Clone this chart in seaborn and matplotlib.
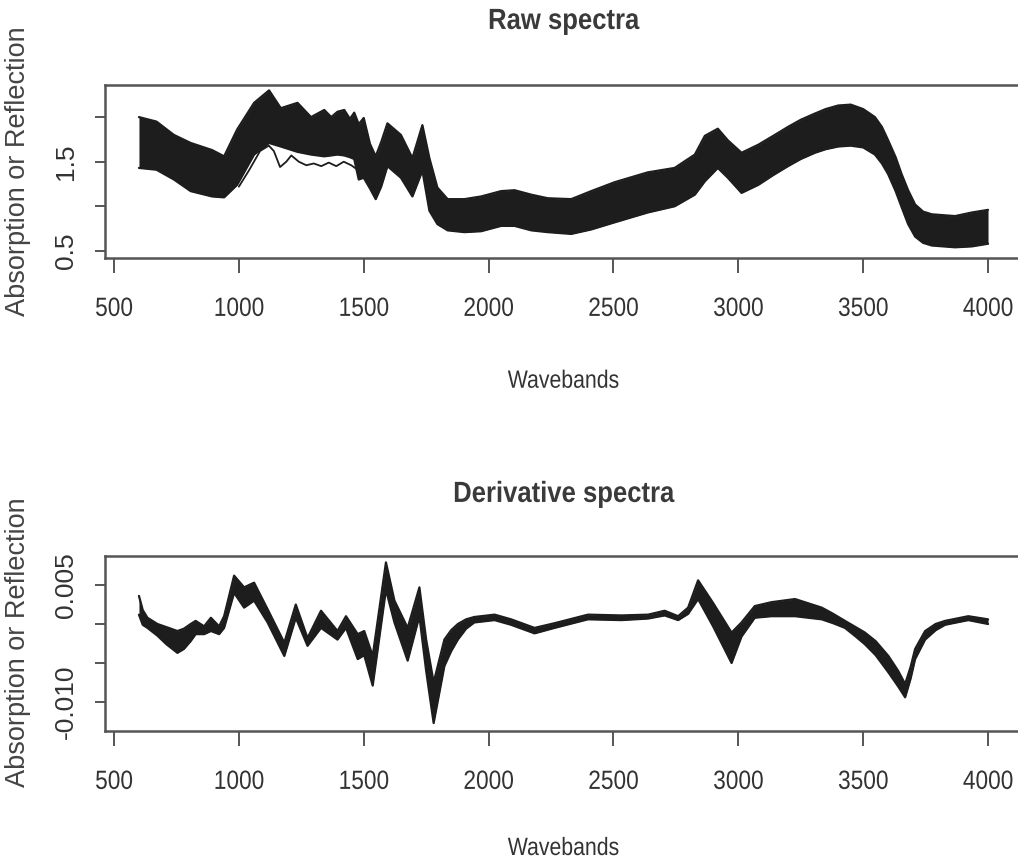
import numpy as np
import pandas as pd
import matplotlib
matplotlib.use("Agg")
import matplotlib.pyplot as plt
from matplotlib import patheffects
from matplotlib.transforms import Affine2D
import seaborn as sns

# ---- raw spectra: envelope of the spectral set (upper / lower bound) ----
raw_wavebands = [600, 670, 740, 807, 893, 941, 993, 1061, 1121, 1168, 1235, 1289,
                 1342, 1370, 1395, 1422, 1445, 1462, 1480, 1500, 1525, 1548, 1570,
                 1595, 1649, 1695, 1735, 1763, 1795, 1836, 1903, 1970, 2050, 2104,
                 2171, 2237, 2331, 2411, 2505, 2637, 2745, 2826, 2866, 2918, 2958,
                 3013, 3080, 3140, 3199, 3250, 3307, 3350, 3400, 3450, 3500, 3547,
                 3575, 3600, 3630, 3654, 3680, 3708, 3740, 3775, 3868, 3935, 4000]
raw_upper = [2.00, 1.95, 1.80, 1.71, 1.63, 1.56, 1.86, 2.16, 2.30, 2.10, 2.16, 2.00,
             2.08, 2.00, 2.06, 2.08, 1.98, 2.05, 1.92, 1.99, 1.70, 1.56, 1.72,
             1.93, 1.80, 1.54, 1.91, 1.54, 1.21, 1.08, 1.08, 1.11, 1.17, 1.18,
             1.13, 1.09, 1.08, 1.17, 1.27, 1.38, 1.43, 1.58, 1.79, 1.87, 1.74,
             1.60, 1.69, 1.79, 1.89, 1.97, 2.04, 2.09, 2.13, 2.14, 2.09, 2.00,
             1.89, 1.74, 1.55, 1.36, 1.18, 1.02, 0.94, 0.91, 0.89, 0.93, 0.96]
raw_lower = [1.43, 1.41, 1.30, 1.17, 1.11, 1.10, 1.24, 1.58, 1.71, 1.67, 1.61, 1.58,
             1.56, 1.57, 1.58, 1.57, 1.55, 1.53, 1.30, 1.32, 1.20, 1.08, 1.22,
             1.45, 1.32, 1.11, 1.40, 0.95, 0.80, 0.73, 0.71, 0.72, 0.78, 0.78,
             0.73, 0.71, 0.69, 0.74, 0.82, 0.93, 1.00, 1.13, 1.28, 1.43, 1.32,
             1.15, 1.24, 1.35, 1.45, 1.53, 1.60, 1.64, 1.67, 1.68, 1.66, 1.58,
             1.48, 1.36, 1.17, 0.99, 0.80, 0.66, 0.59, 0.56, 0.54, 0.55, 0.58]

# one low-lying spectrum that separates from the bundle
outlier_wavebands = [1000, 1040, 1085, 1120, 1140, 1165, 1190, 1210, 1240, 1270,
                     1300, 1330, 1360, 1390, 1420, 1450, 1480, 1500]
outlier_values = [1.22, 1.40, 1.62, 1.68, 1.62, 1.44, 1.50, 1.57, 1.50, 1.46,
                  1.48, 1.45, 1.49, 1.45, 1.50, 1.46, 1.40, 1.34]

# ---- first-derivative spectra: envelope ----
der_wavebands = [600, 615, 634, 674, 710, 754, 780, 807, 827, 861, 888, 921, 941, 981,
                 1021, 1061, 1115, 1182, 1228, 1275, 1329, 1395, 1429, 1476, 1502,
                 1536, 1589, 1623, 1676, 1723, 1750, 1780, 1823, 1850, 1877, 1910,
                 1943, 2024, 2090, 2184, 2264, 2398, 2532, 2639, 2705, 2759, 2799,
                 2839, 2899, 2973, 3013, 3066, 3133, 3227, 3334, 3380, 3427, 3470,
                 3507, 3550, 3601, 3640, 3668, 3690, 3708, 3748, 3790, 3828, 3921,
                 4000]
der_upper = [0.0036, 0.0018, 0.0008, 0.0000, -0.0004, -0.0009, -0.0006, 0.0000,
             0.0004, -0.0003, 0.0008, -0.0003, 0.0010, 0.0062, 0.0047, 0.0053,
             0.0019, -0.0024, 0.0025, -0.0018, 0.0017, -0.0009, 0.0010, -0.0013,
             -0.0009, -0.0041, 0.0079, 0.0030, -0.0005, 0.0047, -0.0020, -0.0075,
             -0.0020, -0.0008, 0.0000, 0.0006, 0.0009, 0.0012, 0.0006, -0.0005,
             0.0001, 0.0012, 0.0011, 0.0012, 0.0017, 0.0010, 0.0021, 0.0056,
             0.0027, -0.0011, 0.0002, 0.0023, 0.0028, 0.0032, 0.0021, 0.0013,
             0.0004, -0.0004, -0.0011, -0.0022, -0.0041, -0.0060, -0.0077,
             -0.0055, -0.0032, -0.0009, 0.0000, 0.0004, 0.0010, 0.0006]
der_lower = [0.0012, -0.0001, -0.0005, -0.0015, -0.0026, -0.0037, -0.0032, -0.0022,
             -0.0013, -0.0013, -0.0009, -0.0013, -0.0005, 0.0040, 0.0021, 0.0030,
             0.0002, -0.0041, 0.0008, -0.0028, -0.0005, -0.0020, -0.0005, -0.0045,
             -0.0040, -0.0079, 0.0044, 0.0002, -0.0047, 0.0010, -0.0060, -0.0127,
             -0.0054, -0.0035, -0.0020, -0.0006, 0.0002, 0.0005, -0.0001, -0.0012,
             -0.0005, 0.0006, 0.0005, 0.0007, 0.0011, 0.0005, 0.0013, 0.0032,
             -0.0003, -0.0050, -0.0016, 0.0008, 0.0010, 0.0010, 0.0006, 0.0001,
             -0.0005, -0.0016, -0.0026, -0.0040, -0.0062, -0.0080, -0.0094,
             -0.0070, -0.0045, -0.0020, -0.0008, -0.0001, 0.0005, 0.0000]

x_ticks = [500, 1000, 1500, 2000, 2500, 3000, 3500, 4000]
raw_yticks = [0.5, 1.0, 1.5, 2.0]
raw_ytick_labels = ["0.5", "", "1.5", ""]
der_yticks = [-0.010, -0.005, 0.0, 0.005]
der_ytick_labels = ["-0.010", "", "", "0.005"]

BAND = "#1d1d1d"
TEXT = "#333333"
FRAME = "#555555"


class Condensed(patheffects.AbstractPathEffect):
    """Draw glyphs horizontally squeezed about the text's own centre."""

    def __init__(self, sx=0.86):
        super().__init__()
        self.sx = sx

    def draw_path(self, renderer, gc, tpath, affine, rgbFace=None):
        ext = tpath.get_extents()
        cx = 0.5 * (ext.x0 + ext.x1)
        squeeze = Affine2D().translate(-cx, 0).scale(self.sx, 1.0).translate(cx, 0)
        renderer.draw_path(gc, tpath, squeeze + affine, rgbFace)


sns.set_style("ticks")
plt.rcParams["font.family"] = ["Liberation Sans", "DejaVu Sans"]

fig = plt.figure(figsize=(10.18, 8.61), dpi=100)
ax_raw = fig.add_axes([105 / 1018, 1 - 258 / 861, 917 / 1018, 173 / 861])
ax_der = fig.add_axes([105 / 1018, 1 - 731 / 861, 917 / 1018, 175 / 861])


def envelope_frame(wb, upper, lower):
    return pd.concat([
        pd.DataFrame({"waveband": wb, "value": upper, "bound": "upper"}),
        pd.DataFrame({"waveband": wb, "value": lower, "bound": "lower"}),
    ], ignore_index=True)


def draw_band(ax, wb, upper, lower):
    ax.fill_between(wb, lower, upper, color=BAND, lw=0, zorder=2)
    sns.lineplot(data=envelope_frame(wb, upper, lower), x="waveband", y="value",
                 units="bound", estimator=None, color=BAND, lw=1.6,
                 legend=False, ax=ax, zorder=3)


draw_band(ax_raw, raw_wavebands, raw_upper, raw_lower)
sns.lineplot(x=outlier_wavebands, y=outlier_values, color=BAND, lw=1.3,
             ax=ax_raw, zorder=3)
draw_band(ax_der, der_wavebands, der_upper, der_lower)

narrow = [Condensed(0.86)]
panels = [
    (ax_raw, "Raw spectra", (0.42, 2.36), raw_yticks, raw_ytick_labels, 1.324, -0.64),
    (ax_der, "Derivative spectra", (-0.01372, 0.00872), der_yticks, der_ytick_labels, 1.309, -0.60),
]
for ax, title, ylim, yt, ytl, title_y, xlabel_y in panels:
    ax.set_xlim(464, 4136)
    ax.set_ylim(*ylim)
    ax.set_xticks(x_ticks)
    ax.set_xticklabels([str(t) for t in x_ticks], fontsize=19, color=TEXT)
    for lab in ax.get_xticklabels():
        lab.set_path_effects(narrow)
    ax.set_yticks(yt)
    ax.set_yticklabels(ytl, rotation=90, va="center", fontsize=19, color=TEXT)
    ax.tick_params(axis="x", length=11, width=1.4, pad=17, color=FRAME)
    ax.tick_params(axis="y", length=7.5, width=1.4, pad=12, color=FRAME)
    for side in ax.spines.values():
        side.set_visible(True)
        side.set_color(FRAME)
        side.set_linewidth(1.8)
    t = ax.set_title(title, y=title_y, pad=0, fontsize=21, fontweight="bold",
                     color="#3a3a3a")
    t.set_path_effects([Condensed(0.88)])
    ax.set_xlabel("Wavebands", fontsize=18, color=TEXT)
    ax.xaxis.label.set_path_effects([Condensed(0.85)])
    ax.xaxis.set_label_coords(0.5, xlabel_y)
    ax.set_ylabel("")
    ax.grid(False)

for yc in (171, 642):
    fig.text(18 / 1018, 1 - yc / 861, "Absorption or Reflection", rotation=90,
             ha="center", va="center", fontsize=19.5, color="#444444")

fig.savefig("out.png", dpi=100, facecolor="white")
